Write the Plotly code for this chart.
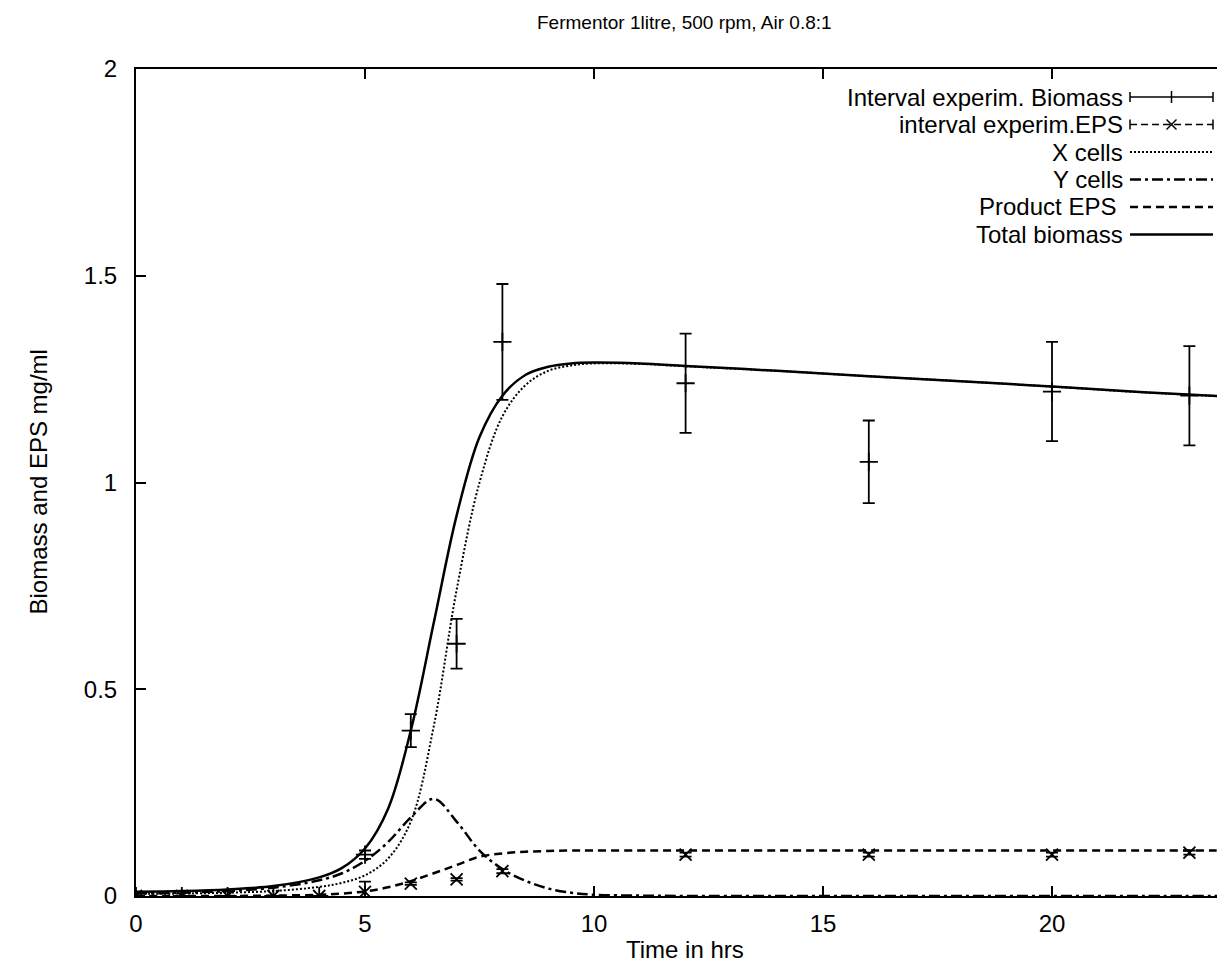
import plotly.graph_objects as go

# ---------------- data ----------------
t_exp = [0, 1, 2, 3, 4, 5, 6, 7, 8, 12, 16, 20, 23]
biomass_exp = [0, 0, 0, 0, 0, 0.10, 0.40, 0.61, 1.34, 1.24, 1.05, 1.22, 1.21]
biomass_err = [0, 0, 0, 0, 0, 0.01, 0.04, 0.06, 0.14, 0.12, 0.10, 0.12, 0.12]
eps_exp = [0, 0, 0, 0, 0, 0.01, 0.03, 0.04, 0.06, 0.10, 0.10, 0.10, 0.105]
eps_err = [0, 0, 0, 0, 0, 0.025, 0.003, 0.003, 0.005, 0.005, 0.005, 0.005, 0.005]

t_model = [0, 1, 2, 3, 4, 4.5, 5, 5.5, 6, 6.5, 7, 7.5, 8, 8.5, 9, 9.5, 10, 11, 12, 14, 16, 18, 20, 22, 24]
total_biomass = [0.010, 0.012, 0.016, 0.024, 0.045, 0.068, 0.115, 0.21, 0.40, 0.66, 0.92, 1.11, 1.21,
                 1.26, 1.28, 1.288, 1.29, 1.288, 1.282, 1.27, 1.257, 1.245, 1.232, 1.218, 1.207]
x_cells = [0.005, 0.006, 0.008, 0.012, 0.022, 0.032, 0.05, 0.09, 0.18, 0.41, 0.74, 1.0, 1.16,
           1.235, 1.27, 1.283, 1.288, 1.287, 1.281, 1.27, 1.257, 1.245, 1.232, 1.218, 1.207]
y_cells = [0.006, 0.008, 0.012, 0.02, 0.038, 0.055, 0.085, 0.13, 0.19, 0.235, 0.18, 0.11, 0.065,
           0.037, 0.018, 0.008, 0.003, 0.001, 0, 0, 0, 0, 0, 0, 0]
product_eps = [0.0, 0.0, 0.0, 0.001, 0.003, 0.006, 0.011, 0.021, 0.036, 0.055, 0.075, 0.095, 0.103,
               0.107, 0.109, 0.11, 0.11, 0.11, 0.11, 0.11, 0.11, 0.11, 0.11, 0.11, 0.11]

x_ticks = [0, 5, 10, 15, 20]
y_ticks = [0, 0.5, 1, 1.5, 2]

legend_labels = ["Interval experim. Biomass", "interval experim.EPS", "X cells",
                 "Y cells", "Product EPS ", "Total biomass"]

# ---------------- figure ----------------
W, H = 1225, 971
ML, MR, MT, MB = 128, 0, 61, 83
PW, PH = W - ML - MR, H - MT - MB
FONT = "Liberation Sans, Arial, Helvetica, sans-serif"
FS = 24
FS_TITLE = 19

def px(x):
    return (x - ML) / PW

def py(y):
    return (H - MB - y) / PH

fig = go.Figure()

curve_style = dict(mode="lines", line_shape="spline", showlegend=False, hoverinfo="skip")
fig.add_trace(go.Scatter(x=t_model, y=x_cells, line=dict(color="black", width=2, dash="2px,2px"), **curve_style))
fig.add_trace(go.Scatter(x=t_model, y=y_cells, line=dict(color="black", width=2.5, dash="11px,4px,3px,4px"), **curve_style))
fig.add_trace(go.Scatter(x=t_model, y=product_eps, line=dict(color="black", width=2.5, dash="8px,5px"), **curve_style))
fig.add_trace(go.Scatter(x=t_model, y=total_biomass, line=dict(color="black", width=2.5), **curve_style))

fig.add_trace(go.Scatter(
    x=t_exp, y=biomass_exp, mode="markers", showlegend=False,
    marker=dict(symbol="cross-thin", size=13, line=dict(color="black", width=1.8), color="black"),
    error_y=dict(type="data", array=biomass_err, visible=True, color="black", thickness=1.8, width=6),
))
fig.add_trace(go.Scatter(
    x=t_exp, y=eps_exp, mode="markers", showlegend=False,
    marker=dict(symbol="x-thin", size=12, line=dict(color="black", width=1.8), color="black"),
    error_y=dict(type="data", array=eps_err, visible=True, color="black", thickness=1.8, width=6),
))

# ---------------- custom gnuplot-style key ----------------
shapes = []
annotations = []
row_y0, row_dy = 89, 27.5
txt_right = 1117
s_x0, s_x1 = 1122, 1205
styles = ["errbar", "epsbar", "2px,2px", "11px,4px,3px,4px", "8px,5px", "solid"]
for i, (lab, st) in enumerate(zip(legend_labels, styles)):
    yy = row_y0 + i * row_dy
    annotations.append(dict(x=px(txt_right), y=py(yy), xref="paper", yref="paper", text=lab,
                            showarrow=False, xanchor="right", yanchor="middle",
                            font=dict(family=FONT, size=FS, color="black")))
    ln = dict(type="line", xref="paper", yref="paper", x0=px(s_x0), x1=px(s_x1), y0=py(yy), y1=py(yy))
    if st == "errbar":
        shapes.append({**ln, "line": dict(color="black", width=1.5)})
    elif st == "epsbar":
        shapes.append({**ln, "line": dict(color="black", width=1.5, dash="7px,4px")})
    else:
        shapes.append({**ln, "line": dict(color="black", width=2.5 if st != "2px,2px" else 2, dash=st)})
    if st in ("errbar", "epsbar"):
        for xe in (s_x0, s_x1):
            shapes.append(dict(type="line", xref="paper", yref="paper", x0=px(xe), x1=px(xe),
                               y0=py(yy - 5), y1=py(yy + 5), line=dict(color="black", width=1.5)))
        xm = (s_x0 + s_x1) / 2
        if st == "errbar":
            shapes.append(dict(type="line", xref="paper", yref="paper", x0=px(xm), x1=px(xm),
                               y0=py(yy - 6), y1=py(yy + 6), line=dict(color="black", width=1.5)))
        else:
            for sgn in (1, -1):
                shapes.append(dict(type="line", xref="paper", yref="paper", x0=px(xm - 5), x1=px(xm + 5),
                                   y0=py(yy - 5 * sgn), y1=py(yy + 5 * sgn), line=dict(color="black", width=1.5)))

annotations.append(dict(x=0.5, y=py(942), xref="paper", yref="paper", text="Time in hrs",
                        showarrow=False, xanchor="center", yanchor="middle",
                        font=dict(family=FONT, size=FS, color="black")))
annotations.append(dict(x=px(30), y=0.5, xref="paper", yref="paper", text="Biomass and EPS mg/ml",
                        showarrow=False, xanchor="center", yanchor="middle", textangle=-90,
                        font=dict(family=FONT, size=FS, color="black")))
annotations.append(dict(x=0.5, y=py(15), xref="paper", yref="paper",
                        text="Fermentor 1litre, 500 rpm, Air 0.8:1",
                        showarrow=False, xanchor="center", yanchor="middle",
                        font=dict(family=FONT, size=FS_TITLE, color="black")))

axis_common = dict(showline=True, linecolor="black", linewidth=2, mirror="ticks", ticks="inside",
                   ticklen=10, tickwidth=1.5, tickcolor="black", showgrid=False, zeroline=False,
                   tickfont=dict(family=FONT, size=FS, color="black"))

fig.update_layout(
    width=W, height=H,
    margin=dict(l=ML, r=MR, t=MT, b=MB, autoexpand=False),
    paper_bgcolor="white", plot_bgcolor="white",
    showlegend=False,
    xaxis=dict(range=[0, PW / 45.8], tickvals=x_ticks, ticktext=[str(v) for v in x_ticks],
               ticklabelstandoff=5, **axis_common),
    yaxis=dict(range=[0, 2], tickvals=y_ticks, ticktext=["0", "0.5", "1", "1.5", "2"],
               ticklabelstandoff=12, **axis_common),
    shapes=shapes, annotations=annotations,
)

fig.write_html("out.html")
